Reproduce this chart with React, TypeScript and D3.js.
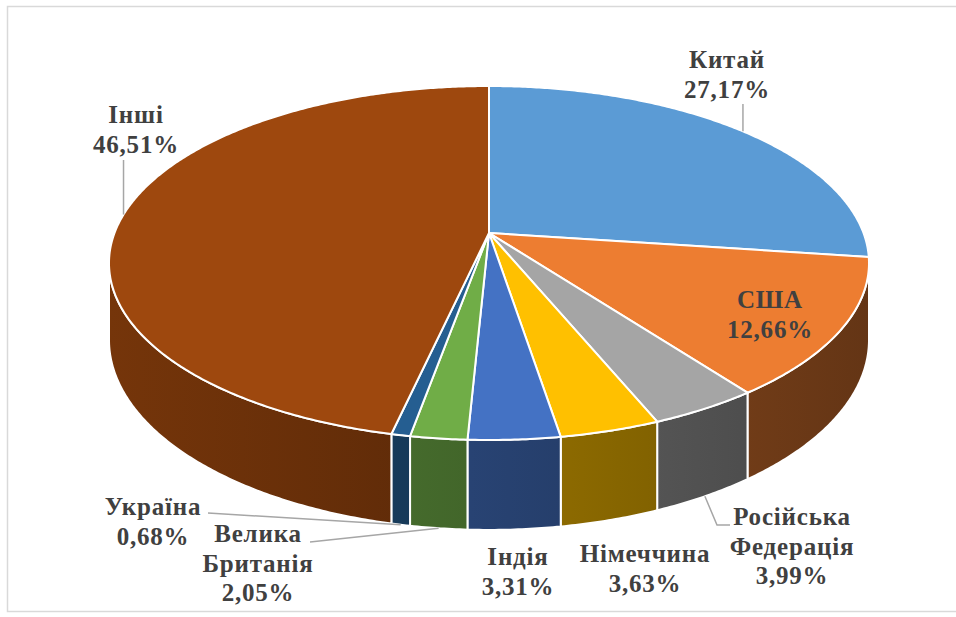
import React from 'react';
import * as d3 from 'd3';

// slice data, clockwise from 12 o'clock
const countries = ['Китай', 'США', 'Російська Федерація', 'Німеччина', 'Індія', 'Велика Британія', 'Україна', 'Інші'];
const shares = [27.17, 12.66, 3.99, 3.63, 3.31, 2.05, 0.68, 46.51];
const colors = ['#5B9BD5', '#ED7D31', '#A5A5A5', '#FFC000', '#4472C4', '#70AD47', '#255E91', '#9E480E'];

// label placement (layout only): centre x, first baseline y, leader kind
const labelPos = [
  { x: 727, y: 68, leader: 'top', from: [0, 104] },
  { x: 770, y: 308, leader: 'none', from: [0, 0] },
  { x: 792, y: 525, leader: 'wall', from: [730, 525], knee: [717, 525] },
  { x: 645, y: 562, leader: 'none', from: [0, 0] },
  { x: 518, y: 565, leader: 'none', from: [0, 0] },
  { x: 258, y: 542, leader: 'wall', from: [310, 542] },
  { x: 153, y: 515, leader: 'wall', from: [208, 513] },
  { x: 136, y: 123, leader: 'top', from: [0, 160] },
];

const W = 956;
const H = 617;

// perspective disc
const cx = 489;
const cy = 233;
const SX = 374.5;
const SY = 171.9;
const K = 0.1695;
const DEPTH = 74.7;

const proj = (a: number, drop = 0): [number, number] => {
  const u = Math.sin(a);
  const v = Math.cos(a);
  const d = 1 + K * v;
  return [cx + (SX * u) / d, cy - (SY * v) / d + (DEPTH * drop) / d];
};

const arcPts = (a0: number, a1: number, drop = 0) => {
  const n = Math.max(2, Math.ceil(((a1 - a0) * 180) / Math.PI / 0.5));
  return d3.range(n + 1).map((i) => proj(a0 + ((a1 - a0) * i) / n, drop));
};

const line = d3.line();
const fmt = (v: number) => d3.format('.2f')(v).replace('.', ',') + '%';
const shade = (c: string, f: number) => {
  const r = d3.rgb(c);
  return d3.rgb(r.r * f, r.g * f, r.b * f).formatHex();
};

export default function App() {
  const arcs = d3.pie<number>().sort(null).startAngle(0).endAngle(2 * Math.PI)(shares);
  const visA = Math.acos(-K);
  const visB = 2 * Math.PI - visA;
  const left = proj(visB)[0];
  const right = proj(visA)[0];

  const walls = arcs
    .map((a, i) => {
      const s = Math.max(a.startAngle, visA);
      const e = Math.min(a.endAngle, visB);
      if (e <= s) return null;
      const pts = [...arcPts(s, e, 0), ...arcPts(s, e, 1).reverse()];
      return { i, d: line(pts) + 'Z' };
    })
    .filter(Boolean) as { i: number; d: string }[];

  const tops = arcs.map((a, i) => ({
    i,
    d: line([[cx, cy], ...arcPts(a.startAngle, a.endAngle, 0)]) + 'Z',
  }));

  const fontStyle = {
    fontFamily: '"Liberation Serif", "DejaVu Serif", serif',
    fontWeight: 700,
    fontSize: 25,
    letterSpacing: 0.8,
    fill: '#404040',
  } as React.CSSProperties;

  return (
    <svg width={W} height={H} style={{ position: 'absolute', left: 0, top: 0, background: '#fff' }}>
      <defs>
        {colors.map((c, i) => (
          <linearGradient key={i} id={`wall${i}`} gradientUnits="userSpaceOnUse" x1={left} x2={right} y1={0} y2={0}>
            <stop offset="0%" stopColor={shade(c, 0.74)} />
            <stop offset="100%" stopColor={shade(c, 0.42)} />
          </linearGradient>
        ))}
      </defs>
      <rect x={7.5} y={6.5} width={960} height={605} fill="#fff" stroke="#d9d9d9" strokeWidth={1.5} />

      {walls.map((w) => (
        <path key={'w' + w.i} d={w.d} fill={`url(#wall${w.i})`} stroke="#fff" strokeWidth={2} strokeLinejoin="round" />
      ))}
      {tops.map((t) => (
        <path key={'t' + t.i} d={t.d} fill={colors[t.i]} stroke="#fff" strokeWidth={2} strokeLinejoin="round" />
      ))}

      {arcs.map((a, i) => {
        const lp = labelPos[i];
        const mid = (a.startAngle + a.endAngle) / 2;
        if (lp.leader === 'none') return null;
        let pts: [number, number][];
        if (lp.leader === 'top') {
          const end = proj(mid, 0);
          pts = [[end[0], lp.from[1]], end];
        } else {
          const end = proj(mid, 1);
          pts = [lp.from as [number, number]];
          if (lp.knee) pts.push(lp.knee as [number, number]);
          pts.push(end);
        }
        return <path key={'l' + i} d={line(pts) || ''} fill="none" stroke="#a6a6a6" strokeWidth={1.5} />;
      })}

      {countries.map((name, i) => {
        const lp = labelPos[i];
        const lines = [...name.split(' '), fmt(shares[i])];
        return (
          <text key={'x' + i} x={lp.x} y={lp.y} textAnchor="middle" style={fontStyle}>
            {lines.map((t, j) => (
              <tspan key={j} x={lp.x} dy={j === 0 ? 0 : 29.5}>
                {t}
              </tspan>
            ))}
          </text>
        );
      })}
    </svg>
  );
}
